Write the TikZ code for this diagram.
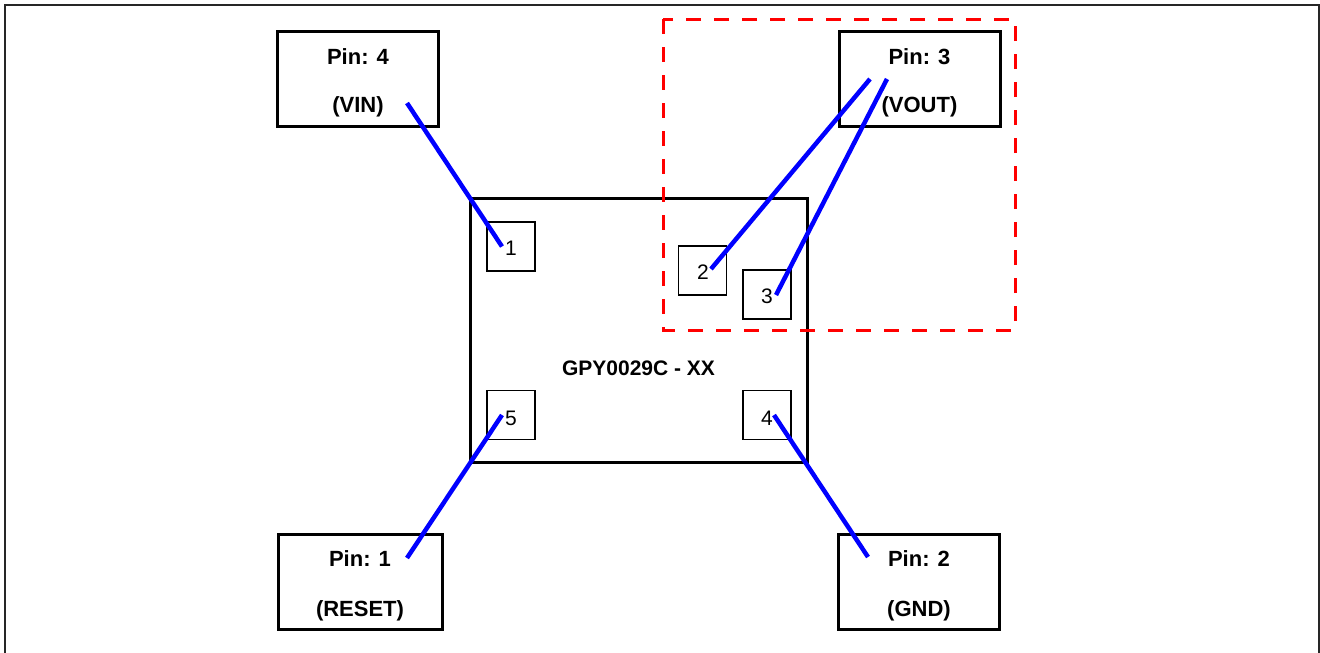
\documentclass[tikz,border=0pt]{standalone}
\usepackage{fontspec}
\setmainfont{Liberation Sans}
\begin{document}
\begin{tikzpicture}[x=1pt,y=-1pt,
  pinbox/.style={draw=black,line width=3pt,minimum width=161pt,minimum height=95pt,inner sep=0pt},
  chipbox/.style={draw=black,line width=3pt,minimum width=337pt,minimum height=264pt,inner sep=0pt},
  padbox/.style={draw=black,line width=1.6pt,minimum width=48pt,minimum height=49pt,inner sep=0pt},
  lbl/.style={font=\fontsize{22}{24}\selectfont\bfseries,inner sep=0pt},
  chiplbl/.style={font=\fontsize{21}{24}\selectfont\bfseries,inner sep=0pt},
  padnum/.style={font=\fontsize{21}{22}\selectfont,inner sep=0pt},
  wire/.style={draw=blue,line width=4.5pt},
  zone/.style={draw=red,line width=3pt,dash pattern=on 15pt off 13pt},
  frame/.style={draw=black!85,line width=2pt}]
\useasboundingbox (0,0) rectangle (1320,653);
\draw[frame] (5,660) -- (5,5) -- (1319,5) -- (1319,660);
% chip
\node[chipbox] (chip) at (638.5,330) {};
\node[chiplbl] (chipname) at (638.5,368) {GPY0029C - XX};
% pads
\node[padbox] (pad1) at (511,246.5) {};
\node[padbox] (pad2) at (702.5,270.5) {};
\node[padbox] (pad3) at (767,294.5) {};
\node[padbox] (pad5) at (511,415) {};
\node[padbox] (pad4) at (767,415) {};
\node[padnum] at (511,248) {1};
\node[padnum] at (703,272) {2};
\node[padnum] at (767,296) {3};
\node[padnum] at (511,418) {5};
\node[padnum] at (767,418) {4};
% pin boxes
\node[pinbox] (pin4) at (358,79) {};
\node[lbl] at ([yshift=22pt]pin4.center) {Pin: 4};
\node[lbl] at ([yshift=-28pt]pin4.center) {(VIN)};
\node[pinbox] (pin3) at (919.5,78.5) {};
\node[lbl] at ([yshift=22pt]pin3.center) {Pin: 3};
\node[lbl] at ([yshift=-28pt]pin3.center) {(VOUT)};
\node[pinbox,minimum width=164pt] (pin1) at (360,582) {};
\node[lbl] at ([yshift=23pt]pin1.center) {Pin: 1};
\node[lbl] at ([yshift=-29pt]pin1.center) {(RESET)};
\node[pinbox] (pin2) at (919,582) {};
\node[lbl] at ([yshift=23pt]pin2.center) {Pin: 2};
\node[lbl] at ([yshift=-29pt]pin2.center) {(GND)};
% zone
\draw[zone] (663,19) rectangle (1015,330);
% wires
\draw[wire] ([xshift=49pt,yshift=-24pt]pin4.center) -- ([xshift=-9pt]pad1.center);
\draw[wire] ([xshift=-49.5pt,yshift=-0.5pt]pin3.center) -- ([xshift=8.5pt,yshift=1.5pt]pad2.center);
\draw[wire] ([xshift=-32.5pt,yshift=-0.5pt]pin3.center) -- ([xshift=9pt,yshift=-0.5pt]pad3.center);
\draw[wire] ([xshift=-9pt]pad5.center) -- ([xshift=47pt,yshift=24pt]pin1.center);
\draw[wire] ([xshift=7pt]pad4.center) -- ([xshift=-51pt,yshift=25pt]pin2.center);
\end{tikzpicture}
\end{document}
